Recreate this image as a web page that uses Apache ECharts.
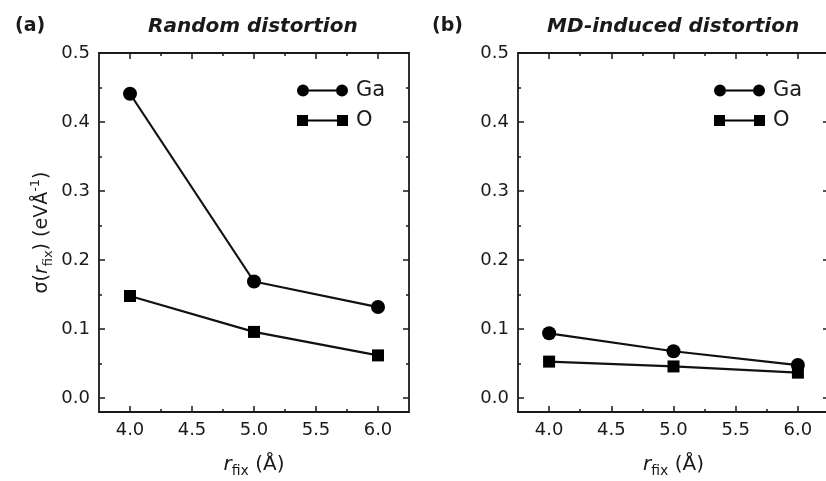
<!DOCTYPE html>
<html><head><meta charset="utf-8">
<script src="https://cdn.jsdelivr.net/npm/echarts@6/dist/echarts.min.js"></script>
<style>html,body{margin:0;padding:0;background:#fff}#c{width:826px;height:481px}</style>
</head><body><div id="c"></div>
<script>
// ---- data ----
const rfix = [4.0, 5.0, 6.0];
const gaRandom = [0.441, 0.169, 0.132];
const oRandom = [0.148, 0.096, 0.062];
const gaMD = [0.094, 0.068, 0.048];
const oMD = [0.053, 0.046, 0.037];
const xMajorTicks = [4.0, 4.5, 5.0, 5.5, 6.0];
const xMinorTicks = [4.25, 4.75, 5.25, 5.75];
const yMajorTicks = [0.0, 0.1, 0.2, 0.3, 0.4, 0.5];
const yMinorTicks = [0.05, 0.15, 0.25, 0.35, 0.45];
const panelLabels = ['(a)', '(b)'];
const panelTitles = ['Random distortion', 'MD-induced distortion'];
const seriesNames = ['Ga', 'O'];

// ---- styling ----
const FONT = '"DejaVu Sans", Verdana, sans-serif';
const INK = '#1a1a1a';
const X_RANGE = [3.75, 6.25];
const Y_RANGE = [-0.02, 0.5];
const grids = [
  {left: 99, top: 53, width: 310, height: 359, outerBoundsMode: 'none'},
  {left: 518, top: 53, width: 311, height: 359, outerBoundsMode: 'none'}
];
const gaIcon = 'path://M0,6A6,6,0,1,0,12,6A6,6,0,1,0,0,6Z M12,5L39,5L39,7L12,7Z M39,6A6,6,0,1,0,51,6A6,6,0,1,0,39,6Z';
const oIcon = 'path://M0,0.5H11V11.5H0Z M11,5L40,5L40,7L11,7Z M40,0.5H51V11.5H40Z';

const axisLineStyle = {show: true, onZero: false, lineStyle: {color: INK, width: 1.8}};
const richX = {
  i: {fontStyle: 'italic', fontSize: 20, color: INK, fontFamily: FONT, lineHeight: 26},
  s: {fontSize: 14, color: INK, fontFamily: FONT, lineHeight: 14, verticalAlign: 'bottom'},
  n: {fontSize: 20, color: INK, fontFamily: FONT, lineHeight: 26}
};
const richY = {
  i: {fontStyle: 'italic', fontSize: 19, color: INK, fontFamily: FONT, lineHeight: 26},
  s: {fontSize: 13, color: INK, fontFamily: FONT, lineHeight: 14, verticalAlign: 'bottom'},
  p: {fontSize: 13, color: INK, fontFamily: FONT, lineHeight: 14, verticalAlign: 'top'},
  n: {fontSize: 19, color: INK, fontFamily: FONT, lineHeight: 26}
};

function makeX(g, pos, ticks, len, main, withLabel) {
  const a = {
    type: 'value', gridIndex: g, position: pos, min: X_RANGE[0], max: X_RANGE[1],
    splitLine: {show: false},
    axisLine: main ? axisLineStyle : {show: false, onZero: false},
    axisTick: {show: true, inside: true, length: len, customValues: ticks, lineStyle: {color: INK, width: 1.5}},
    axisLabel: withLabel ? {show: true, customValues: xMajorTicks, formatter: v => v.toFixed(1),
      fontSize: 18, color: INK, fontFamily: FONT, margin: 9} : {show: false}
  };
  if (withLabel) {
    a.name = '{i|r}{s|fix}{n| (Å)}';
    a.nameLocation = 'middle';
    a.nameGap = 40;
    a.nameTextStyle = {rich: richX};
  }
  return a;
}
function makeY(g, pos, ticks, len, main, withLabel, withName) {
  const a = {
    type: 'value', gridIndex: g, position: pos, min: Y_RANGE[0], max: Y_RANGE[1],
    splitLine: {show: false},
    axisLine: main ? axisLineStyle : {show: false, onZero: false},
    axisTick: {show: true, inside: true, length: len, customValues: ticks, lineStyle: {color: INK, width: 1.5}},
    axisLabel: withLabel ? {show: true, customValues: yMajorTicks, formatter: v => v.toFixed(1),
      fontSize: 18, color: INK, fontFamily: FONT, margin: 9} : {show: false}
  };
  if (withName) {
    a.name = '{n|σ(}{i|r}{s|fix}{n|) (eVÅ}{p|-1}{n|)}';
    a.nameLocation = 'middle';
    a.nameGap = 44;
    a.nameTextStyle = {rich: richY};
  }
  return a;
}

const xAxis = [], yAxis = [];
for (let g = 0; g < 2; g++) {
  xAxis.push(makeX(g, 'bottom', xMajorTicks, 6, true, true));
  xAxis.push(makeX(g, 'bottom', xMinorTicks, 3, false, false));
  xAxis.push(makeX(g, 'top', xMajorTicks, 6, true, false));
  xAxis.push(makeX(g, 'top', xMinorTicks, 3, false, false));
  yAxis.push(makeY(g, 'left', yMajorTicks, 6, true, true, g === 0));
  yAxis.push(makeY(g, 'left', yMinorTicks, 3, false, false, false));
  yAxis.push(makeY(g, 'right', yMajorTicks, 6, true, false, false));
  yAxis.push(makeY(g, 'right', yMinorTicks, 3, false, false, false));
}

const panelData = [[gaRandom, oRandom], [gaMD, oMD]];
const series = [];
for (let g = 0; g < 2; g++) {
  panelData[g].forEach((vals, k) => {
    series.push({
      type: 'line', name: seriesNames[k], xAxisIndex: g * 4, yAxisIndex: g * 4,
      data: rfix.map((x, i) => [x, vals[i]]),
      symbol: k === 0 ? 'circle' : 'rect', symbolSize: k === 0 ? 14 : 12,
      itemStyle: {color: '#000'}, lineStyle: {color: '#111', width: 2.2},
      z: k === 0 ? 3 : 2, animation: false
    });
  });
}

const titleLefts = [[15, 148], [432, 547]];
const title = [];
for (let g = 0; g < 2; g++) {
  title.push({text: panelLabels[g], left: titleLefts[g][0], top: 17, padding: 0,
    textStyle: {fontSize: 19, fontWeight: 'bold', color: INK, fontFamily: FONT}});
  title.push({text: panelTitles[g], left: titleLefts[g][1], top: 17, padding: 0,
    textStyle: {fontSize: 20, fontWeight: 'bold', fontStyle: 'italic', color: INK, fontFamily: FONT}});
}

const legendLefts = [297, 714];
const legend = legendLefts.map(l => ({
  left: l, top: 80, orient: 'vertical', padding: 0, itemWidth: 51, itemHeight: 12, itemGap: 9,
  selectedMode: false,
  data: [{name: 'Ga', icon: gaIcon}, {name: 'O', icon: oIcon}],
  textStyle: {fontSize: 21, color: INK, fontFamily: FONT, padding: [0, 0, 0, 3]}
}));

const chart = echarts.init(document.getElementById('c'), null, {renderer: 'canvas'});
chart.setOption({
  backgroundColor: '#fff', animation: false,
  title, legend, grid: grids, xAxis, yAxis, series
});
</script></body></html>
